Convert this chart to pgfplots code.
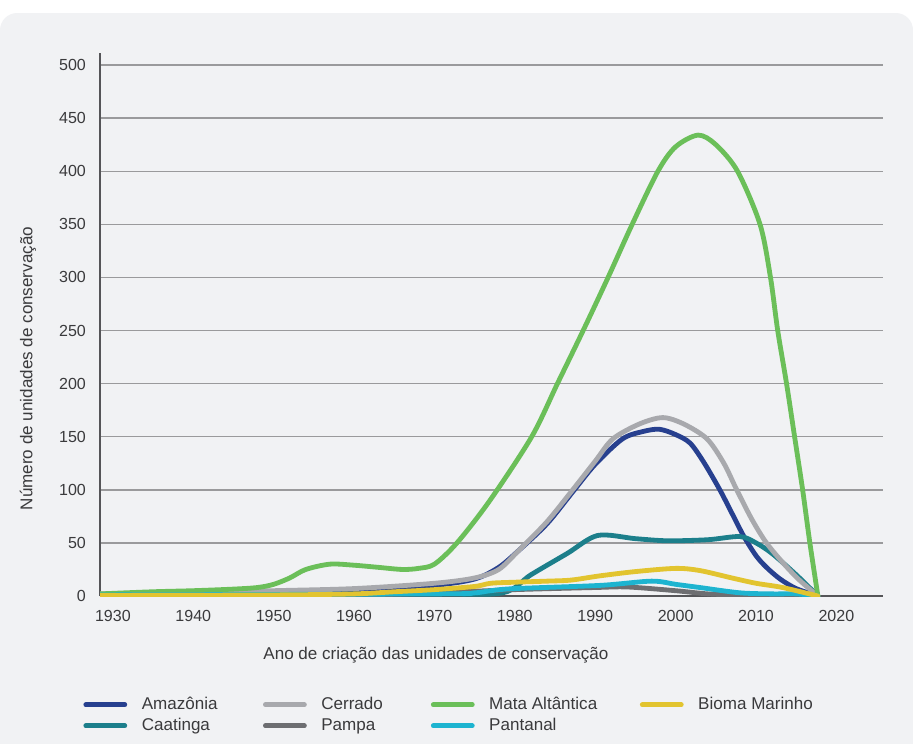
\documentclass[border=0pt]{standalone}
\usepackage{fontspec}
\setmainfont{Liberation Sans}
\usepackage{pgfplots}
\pgfplotsset{compat=1.18}

\definecolor{bg}{HTML}{F1F2F4}
\definecolor{gridc}{HTML}{9A9A9C}
\definecolor{axc}{HTML}{555558}
\definecolor{txt}{HTML}{3A3A3C}
\definecolor{amaz}{HTML}{27408F}
\definecolor{caat}{HTML}{1C7F8B}
\definecolor{cerr}{HTML}{A8A9AD}
\definecolor{pampa}{HTML}{6D6E71}
\definecolor{mata}{HTML}{6BBF59}
\definecolor{pant}{HTML}{1DB4D0}
\definecolor{bioma}{HTML}{E2C42F}

\begin{document}
\begin{tikzpicture}
\useasboundingbox (0,0) rectangle (16cm,13.021cm);
\fill[bg, rounded corners=0.3cm] (0,-1cm) rectangle (16cm,12.793cm);
\begin{axis}[
    at={(1.7525cm,2.5762cm)}, anchor=south west,
    scale only axis,
    width=13.722cm, height=9.516cm,
    xmin=1928.4, xmax=2025.8,
    ymin=0, ymax=511.3,
    xtick={1930,1940,...,2020},
    ytick={0,50,...,500},
    major tick length=0pt,
    ymajorgrids,
    grid style={color=gridc, line width=0.7pt},
    axis x line*=bottom, axis y line*=left,
    x axis line style={-, color=axc, line width=1pt},
    y axis line style={-, color=axc, line width=0.6pt},
    /pgf/number format/assume math mode=true,
    /pgf/number format/1000 sep={},
    ticklabel style={font=\fontsize{8}{9}\selectfont, text=txt},
    xticklabel style={yshift=-3.5pt},
    yticklabel style={xshift=-3.5pt},
    xlabel={Ano de criação das unidades de conservação},
    ylabel={Número de unidades de conservação},
    label style={font=\fontsize{8.5}{10}\selectfont, text=txt},
    xlabel style={at={(axis description cs:0.429,-0.109)}, anchor=center},
    ylabel style={at={(axis description cs:-0.092,0.419)}, anchor=center, rotate=0},
    every axis plot/.append style={line width=2.4pt, smooth, tension=0.5, line join=round, line cap=round},
    legend columns=2, transpose legend,
    legend image code/.code={\draw[#1, line cap=round] (0cm,0cm) -- (0.683cm,0cm);},
    legend style={at={(axis description cs:-0.0217,-0.183)}, anchor=north west,
        draw=none, fill=none, inner sep=0pt,
        font=\fontsize{8.5}{10}\selectfont, text=txt,
        nodes={inner sep=0pt, text height=7pt, text depth=2pt, anchor=west},
        row sep=1.5pt,
        /tikz/every odd column/.append style={column sep=0.255cm},
        /tikz/every even column/.append style={column sep=0pt}},
]
\addplot[amaz] coordinates {
 (1928.4,1) (1940,1) (1950,2) (1960,4) (1970,10) (1975,16) (1978,27)
 (1980.5,43) (1984,68) (1987.2,98) (1990,124) (1993.4,148) (1996,155)
 (1998,157) (2000,152) (2001.8,144) (2003.5,126) (2005.5,100) (2007,78)
 (2008.5,56) (2010,38) (2011.3,27) (2013,16) (2015,7) (2017.7,0)};
\addlegendentry{\makebox[2.125cm][l]{Amazônia}}
\addplot[caat] coordinates {
 (1928.4,1) (1950,1.5) (1970,2) (1978.5,3) (1982,20) (1986.5,40)
 (1990.3,57) (1995,54) (1999,52) (2004,53) (2008,56) (2010,50)
 (2012,40) (2015,20) (2017.7,0)};
\addlegendentry{\makebox[2.125cm][l]{Caatinga}}
\addplot[cerr] coordinates {
 (1928.4,2) (1940,3) (1950,5) (1960,7) (1970,12) (1975,17) (1978,25)
 (1980.5,43) (1984,70) (1987.2,100) (1990,127) (1992.2,148) (1995.5,162)
 (1998.4,168) (2001,162) (2003.9,148) (2006,125) (2007.6,100) (2009.5,72)
 (2011.3,50) (2013.5,30) (2015.4,15) (2017.7,0)};
\addlegendentry{\makebox[1.92cm][l]{Cerrado}}
\addplot[pampa] coordinates {
 (1928.4,0.5) (1960,1) (1970,3) (1980,6) (1990,8) (1994,8.5) (2000,5)
 (2004,2) (2008,1) (2017.7,0)};
\addlegendentry{\makebox[1.92cm][l]{Pampa}}
\addplot[mata] coordinates {
 (1928.4,2) (1935,4) (1940,5) (1945,6.5) (1948,8) (1950,11) (1952,17)
 (1954,25) (1957,30) (1960,29) (1963,27) (1966,25) (1968,26) (1970,30)
 (1972.8,50) (1976.9,90) (1982.1,150) (1985.3,200) (1988.5,250)
 (1991.6,300) (1994.6,350) (1997.8,400) (2000,423) (2002.8,434) (2005,425)
 (2007.7,400) (2010.5,350) (2011.8,300) (2012.7,250) (2013.8,200)
 (2014.8,150) (2015.8,100) (2016.7,50) (2017.7,0)};
\addlegendentry{\makebox[2.64cm][l]{Mata Altântica}}
\addplot[pant] coordinates {
 (1928.4,1) (1970,2) (1975,3) (1977,5) (1980,7) (1990.6,10) (1997,14)
 (2000,11) (2003,8) (2008,3) (2012,2) (2015,2) (2017.7,0)};
\addlegendentry{\makebox[2.64cm][l]{Pantanal}}
\addplot[bioma] coordinates {
 (1928.4,0.5) (1950,1) (1960,2) (1965,4) (1970,6) (1975,9) (1977,12)
 (1980,13) (1984,14) (1987,15) (1990.6,19) (1995,23) (2000,26) (2003,24)
 (2007,17) (2010,12) (2013.3,8) (2017.7,0)};
\addlegendentry{Bioma Marinho}
\end{axis}
\end{tikzpicture}
\end{document}
